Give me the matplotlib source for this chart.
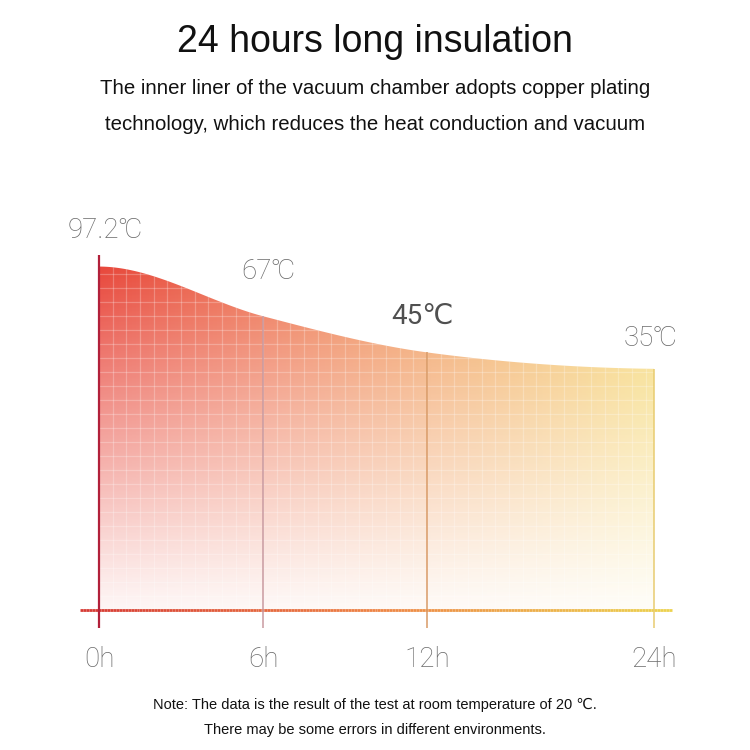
import numpy as np
import matplotlib
matplotlib.use('Agg')
import matplotlib.pyplot as plt
from matplotlib.colors import LinearSegmentedColormap
from matplotlib.patches import Polygon
from matplotlib.collections import LineCollection

# data
hours = [0, 6, 12, 24]
temps = [97.2, 67, 45, 35]
hour_labels = ['0h', '6h', '12h', '24h']
temp_labels = ['97.2℃', '67℃', '45℃', '35℃']

title = '24 hours long insulation'
subtitle = ['The inner liner of the vacuum chamber adopts copper plating',
            'technology, which reduces the heat conduction and vacuum']
note = ['Note: The data is the result of the test at room temperature of 20 ℃.',
        'There may be some errors in different environments.']

# the x axis of the original is not to scale: 12h->24h is squeezed
K = 227 / 164 / 2


def fwd(x):
    x = np.asarray(x, dtype=float)
    return np.where(x <= 12, x, 12 + (x - 12) * K)


def inv(t):
    t = np.asarray(t, dtype=float)
    return np.where(t <= 12, t, 12 + (t - 12) / K)


def hermite(tk, yk, mk, t):
    out = np.empty_like(t)
    for i in range(len(tk) - 1):
        sel = (t >= tk[i]) & (t <= tk[i + 1])
        h = tk[i + 1] - tk[i]
        s = (t[sel] - tk[i]) / h
        h00 = 2 * s**3 - 3 * s**2 + 1
        h10 = s**3 - 2 * s**2 + s
        h01 = -2 * s**3 + 3 * s**2
        h11 = s**3 - s**2
        out[sel] = h00 * yk[i] + h10 * h * mk[i] + h01 * yk[i + 1] + h11 * h * mk[i + 1]
    return out


ymin, ymax = -111.7, 100
px_per_deg = 1.644

fig = plt.figure(figsize=(7.5, 7.5), dpi=100)
ax_h = (ymax - ymin) * px_per_deg
ax = fig.add_axes([99 / 750, 140 / 750, 555 / 750, ax_h / 750])
ax.set_xscale('function', functions=(fwd, inv))
ax.set_xlim(0, 24)
ax.set_ylim(ymin, ymax)
for s in ax.spines.values():
    s.set_visible(False)
ax.set_yticks([])

fill_cmap = LinearSegmentedColormap.from_list(
    'heat', [(0, '#e8473b'), (0.3, '#ee7656'), (0.6, '#f2a062'), (1, '#f6d874')])
line_cmap = LinearSegmentedColormap.from_list(
    'heatline', [(0, '#d63a34'), (0.5, '#ee8445'), (1, '#ecd24e')])

# smooth curve through the points (in squeezed x space)
tk = fwd(hours)
slopes = [0, (temps[2] - temps[0]) / (tk[2] - tk[0]),
          (temps[3] - temps[1]) / (tk[3] - tk[1]), -0.2]
t = np.linspace(tk[0], tk[-1], 400)
curve = hermite(tk, temps, slopes, t)
xh = inv(t)

verts = np.column_stack([np.r_[xh, xh[-1], xh[0]], np.r_[curve, ymin, ymin]])
area = Polygon(verts, closed=True, facecolor='none', edgecolor='none', transform=ax.transData)
ax.add_patch(area)

# gradient: red->yellow left to right, fading to white toward the bottom
W, H = 556, int(ax_h)
cx = np.linspace(0, 1, W)
rgb = fill_cmap(cx)[:, :3]
hh = np.linspace(0, ax_h, H)
alpha = np.clip(0.05 + 0.95 * (hh / 343) ** 1.1, 0, 1)
img = np.ones((H, W, 4))
img[:, :, :3] = rgb[None, :, :]
img[:, :, 3] = alpha[:, None]
im = ax.imshow(img, extent=[0, 1, 0, 1], transform=ax.transAxes, origin='lower',
               aspect='auto', interpolation='bilinear', zorder=1)
im.set_clip_path(area)

# faint white grid inside the area
grid_x = inv(np.arange(0.5, tk[-1], 0.5))
grid_y = ymin + np.arange(1, 30) * 14 / px_per_deg
gv = ax.vlines(grid_x, ymin, ymax, colors='white', alpha=0.25, lw=0.9, zorder=2)
gh = ax.hlines(grid_y, 0, 24, colors='white', alpha=0.25, lw=0.9, zorder=2)
gv.set_clip_path(area)
gh.set_clip_path(area)

# vertical marker lines
below = ymin - 18 / px_per_deg
mark_colors = ['#b2203a', '#c99aa0', '#d99a66', '#e8cc70']
for i, (h, v) in enumerate(zip(hours, temps)):
    top = v + 12 / px_per_deg if i == 0 else v
    ax.plot([h, h], [below, top], color=mark_colors[i], lw=1.6 if i == 0 else 1.1,
            clip_on=False, zorder=4, solid_capstyle='butt')

# baseline with colour gradient
bx = inv(np.linspace(-19 / 555 * tk[-1], tk[-1] + 18 / 555 * tk[-1], 200))
pts = np.column_stack([bx, np.full_like(bx, ymin)])
segs = np.stack([pts[:-1], pts[1:]], axis=1)
lc = LineCollection(segs, colors=line_cmap(np.linspace(0, 1, len(segs))), lw=2,
                    clip_on=False, zorder=3)
ax.add_collection(lc)

# value labels
offsets = [(6, 36), (5, 45), (-5, 36), (-4, 30)]
for i, (h, v, lab) in enumerate(zip(hours, temps, temp_labels)):
    bold = i == 2
    ax.annotate(lab, (h, v), xytext=offsets[i], textcoords='offset pixels',
                ha='center', va='center', fontsize=20,
                color='#505050' if bold else '#6a6a6a',
                fontweight='normal' if bold else 'light',
                family=['Roboto', 'DejaVu Sans'], annotation_clip=False)

ax.set_xticks(hours)
ax.set_xticklabels(hour_labels, fontsize=20, color='#6a6a6a',
                   family=['Roboto', 'DejaVu Sans'], fontweight='light')
ax.tick_params(axis='x', length=0, pad=26)
ax.set_xlim(0, 24)
ax.set_ylim(ymin, ymax)

fig.text(0.5, 1 - 42 / 750, title, ha='center', va='center', fontsize=27,
         color='#111111', family='Liberation Sans')
fig.text(0.5, 1 - 88 / 750, subtitle[0], ha='center', va='center', fontsize=14.7,
         color='#111111', family='Liberation Sans')
fig.text(0.5, 1 - 125 / 750, subtitle[1], ha='center', va='center', fontsize=14.7,
         color='#111111', family='Liberation Sans')
fig.text(0.5, 1 - 705 / 750, note[0], ha='center', va='center', fontsize=10.5,
         color='#111111', family=['Liberation Sans', 'DejaVu Sans'])
fig.text(0.5, 1 - 730 / 750, note[1], ha='center', va='center', fontsize=10.5,
         color='#111111', family='Liberation Sans')

fig.savefig('out.png', dpi=100, facecolor='white')
